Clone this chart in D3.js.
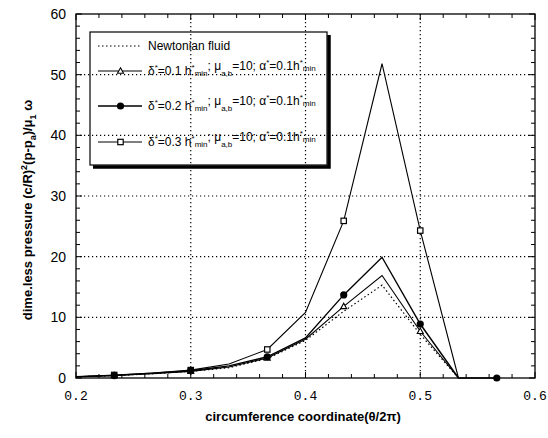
<!DOCTYPE html>
<html>
<head>
  <meta charset="utf-8">
  <title>dimensionless pressure</title>
  <script src="https://d3js.org/d3.v7.min.js"></script>
  <style>
  body { margin: 0; background: white; }
  text { font-family: "Liberation Sans", Arial, sans-serif; fill: black; }
  .xtick { font-family: "Liberation Mono", monospace; font-size: 13px; }
  .ytick { font-size: 14px; }
  .axlabel { font-weight: bold; font-size: 13px; }
  </style>
</head>
<body>
<div id='container'></div>
<script>

// circumference coordinate theta/2pi
var xs = [0.2, 0.2333, 0.2667, 0.3, 0.3333, 0.3667, 0.4, 0.4333, 0.4667, 0.5, 0.5333, 0.5667]

var newtonian = [0.2, 0.4, 0.7, 1.1, 1.7, 3.2, 6.2, 11.0, 15.3, 7.2, 0]
var delta01   = [0.2, 0.4, 0.7, 1.1, 1.8, 3.3, 6.4, 11.8, 16.9, 7.7, 0]
var delta02   = [0.2, 0.4, 0.8, 1.2, 2.0, 3.5, 6.6, 13.7, 19.9, 8.9, 0, 0]
var delta03   = [0.2, 0.5, 0.8, 1.3, 2.3, 4.7, 10.8, 25.9, 51.8, 24.3, 0]

var xTicks = [0.2, 0.3, 0.4, 0.5, 0.6]
var yTicks = [0, 10, 20, 30, 40, 50, 60]

const width = 548
const height = 438
const pLeft = 76, pRight = 535, pTop = 14, pBottom = 378

var svg = d3.select('#container')
  .append('svg')
  .attr('width', width)
  .attr('height', height)

var x = d3.scaleLinear().domain([0.2, 0.6]).range([pLeft, pRight])
var y = d3.scaleLinear().domain([0, 60]).range([pBottom, pTop])

// dotted grid
var grid = svg.append('g')
  .attr('stroke', 'black')
  .attr('stroke-width', 1.2)
  .attr('stroke-dasharray', '1.2,2.8')

grid.selectAll('.vg')
  .data([0.3, 0.4, 0.5])
  .enter().append('line')
  .attr('x1', d => x(d)).attr('x2', d => x(d))
  .attr('y1', pTop).attr('y2', pBottom)

grid.selectAll('.hg')
  .data([10, 20, 30, 40, 50])
  .enter().append('line')
  .attr('y1', d => y(d)).attr('y2', d => y(d))
  .attr('x1', pLeft).attr('x2', pRight)

// frame with inward ticks
var frame = svg.append('g').attr('stroke', 'black').attr('stroke-width', 1.3)
frame.append('rect')
  .attr('x', pLeft).attr('y', pTop)
  .attr('width', pRight - pLeft).attr('height', pBottom - pTop)
  .attr('fill', 'none')

var xMinor = d3.range(0, 21).map(i => 0.2 + i * 0.02)
var yMinor = d3.range(0, 31).map(i => i * 2)

frame.selectAll('.xt')
  .data(xMinor)
  .enter().append('path')
  .attr('d', (d, i) => {
    var len = i % 5 == 0 ? 6 : 4
    return 'M' + x(d) + ',' + pBottom + 'v' + (-len) + 'M' + x(d) + ',' + pTop + 'v' + len
  })
  .attr('stroke-width', 1)

frame.selectAll('.yt')
  .data(yMinor)
  .enter().append('path')
  .attr('d', (d, i) => {
    var len = i % 5 == 0 ? 6 : 4
    return 'M' + pLeft + ',' + y(d) + 'h' + len + 'M' + pRight + ',' + y(d) + 'h' + (-len)
  })
  .attr('stroke-width', 1)

// tick labels
svg.selectAll('.xtick')
  .data(xTicks)
  .enter().append('text')
  .classed('xtick', true)
  .attr('x', d => x(d))
  .attr('y', 400)
  .attr('text-anchor', 'middle')
  .text(d => d.toFixed(1))

svg.selectAll('.ytick')
  .data(yTicks)
  .enter().append('text')
  .classed('ytick', true)
  .attr('x', 66)
  .attr('y', d => y(d) + 5)
  .attr('text-anchor', 'end')
  .text(d => d)

// axis titles
svg.append('text')
  .classed('axlabel', true)
  .attr('x', 303).attr('y', 421)
  .attr('text-anchor', 'middle')
  .text('circumference coordinate(θ/2π)')

var yl = svg.append('text')
  .classed('axlabel', true)
  .attr('transform', 'translate(32,210) rotate(-90)')
  .attr('text-anchor', 'middle')
yl.append('tspan').text('dime.less pressure (c/R)')
yl.append('tspan').attr('dy', -5).attr('font-size', 9).text('2')
yl.append('tspan').attr('dy', 5).text('(p-p')
yl.append('tspan').attr('dy', 4).attr('font-size', 9).text('a')
yl.append('tspan').attr('dy', -4).text(')/μ')
yl.append('tspan').attr('dy', 4).attr('font-size', 9).text('1')
yl.append('tspan').attr('dy', -4).text(' ω')

// series (legend order), drawn with the filled-circle series on top
var series = [
  {name: 'newt', vals: newtonian, dash: '1.5,2.5', width: 1.2, marker: null},
  {name: 'd1', vals: delta01, dash: null, width: 1.1, marker: 'triangle'},
  {name: 'd2', vals: delta02, dash: null, width: 1.4, marker: 'circle'},
  {name: 'd3', vals: delta03, dash: null, width: 1.1, marker: 'square'}
]
var drawOrder = [0, 1, 3, 2]

var line = d3.line()
  .x((d, i) => x(xs[i]))
  .y(d => y(d))

function drawMarker(g, type, cx, cy) {
  if (type == 'circle') {
    g.append('circle').attr('cx', cx).attr('cy', cy).attr('r', 3.6)
      .attr('fill', 'black')
  } else if (type == 'square') {
    g.append('rect').attr('x', cx - 2.7).attr('y', cy - 2.7)
      .attr('width', 5.4).attr('height', 5.4)
      .attr('fill', 'white').attr('stroke', 'black').attr('stroke-width', 1.2)
  } else if (type == 'triangle') {
    g.append('path')
      .attr('d', 'M' + cx + ',' + (cy - 3.2) + 'L' + (cx + 3) + ',' + (cy + 2.2) + 'L' + (cx - 3) + ',' + (cy + 2.2) + 'Z')
      .attr('fill', 'white').attr('stroke', 'black').attr('stroke-width', 1.1)
  }
}

drawOrder.forEach(function(k) {
  var s = series[k]
  svg.append('path')
    .datum(s.vals)
    .attr('d', line)
    .attr('fill', 'none')
    .attr('stroke', 'black')
    .attr('stroke-width', s.width)
    .attr('stroke-dasharray', s.dash)
  if (s.marker) {
    var g = svg.append('g')
    s.vals.forEach(function(v, i) {
      if (i % 2 == 1) drawMarker(g, s.marker, x(xs[i]), y(v))
    })
  }
})

// legend
var lg = svg.append('g')
lg.append('rect')
  .attr('x', 90).attr('y', 32)
  .attr('width', 237).attr('height', 133)
  .attr('fill', 'none').attr('stroke', 'black').attr('stroke-width', 1.2)
lg.append('path')
  .attr('d', 'M329,35V167H93')
  .attr('fill', 'none').attr('stroke', 'black').attr('stroke-width', 3.5)

var legendRows = [46, 71, 106, 142]

function addLabel(ty, parts) {
  var t = lg.append('text').attr('x', 148).attr('y', ty + 4).attr('font-size', 12)
  parts.forEach(function(p) {
    var sp = t.append('tspan').text(p[0])
    if (p[1] == 'sup') sp.attr('font-size', 8).attr('dy', -5)
    if (p[1] == 'sub') sp.attr('font-size', 8).attr('dy', 6)
    if (p[1] == 'supback') sp.attr('dy', 5)
    if (p[1] == 'subback') sp.attr('dy', -6)
  })
}

function deltaLabel(d) {
  return [['δ'], ['*', 'sup'], ['=' + d + ' h', 'supback'], ['*', 'sup'], ['min', 'sub'],
    ['; μ', 'subback'], ['a,b', 'sub'], ['=10; α', 'subback'], ['*', 'sup'],
    ['=0.1h', 'supback'], ['*', 'sup'], ['min', 'sub']]
}

series.forEach(function(s, i) {
  var ly = legendRows[i]
  lg.append('line')
    .attr('x1', 98).attr('x2', 142)
    .attr('y1', ly).attr('y2', ly)
    .attr('stroke', 'black')
    .attr('stroke-width', s.width)
    .attr('stroke-dasharray', s.dash)
  if (s.marker) drawMarker(lg, s.marker, 120.5, ly)
})

addLabel(legendRows[0], [['Newtonian fluid']])
addLabel(legendRows[1], deltaLabel('0.1'))
addLabel(legendRows[2], deltaLabel('0.2'))
addLabel(legendRows[3], deltaLabel('0.3'))

</script>
</body>
</html>
